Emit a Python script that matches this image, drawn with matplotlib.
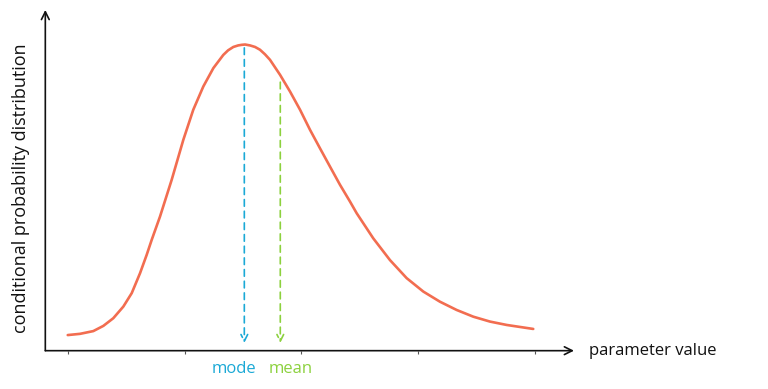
import matplotlib
matplotlib.use('Agg')
from matplotlib import pyplot as plt

# points (x in tick units, y scaled so peak ~ 1)
param = [0.00, 0.105, 0.219, 0.305, 0.390, 0.476, 0.548, 0.619, 0.676, 0.719,
         0.790, 0.890, 0.990, 1.075, 1.161, 1.247, 1.332, 1.373, 1.418, 1.459,
         1.490, 1.519, 1.561, 1.604, 1.646, 1.689, 1.732, 1.818, 1.904, 1.989,
         2.075, 2.160, 2.246, 2.331, 2.417, 2.474, 2.616, 2.759, 2.902, 3.045,
         3.187, 3.330, 3.473, 3.616, 3.759, 3.986]
density = [0.051, 0.055, 0.064, 0.081, 0.106, 0.144, 0.188, 0.253, 0.313, 0.362,
           0.438, 0.558, 0.689, 0.787, 0.863, 0.923, 0.966, 0.981, 0.992, 0.997,
           0.999, 1.000, 0.997, 0.992, 0.983, 0.968, 0.950, 0.901, 0.846, 0.787,
           0.721, 0.661, 0.601, 0.542, 0.487, 0.449, 0.367, 0.296, 0.237, 0.193,
           0.160, 0.133, 0.111, 0.095, 0.084, 0.071]
ticks = [0, 1, 2, 3, 4]
mode_x, mode_top = 1.512, 0.989
mean_x, mean_top = 1.82, 0.877
arrow_bottom = 0.025

plt.rcParams['font.family'] = ['Open Sans', 'DejaVu Sans']

fig = plt.figure(figsize=(7.68, 3.89), dpi=100)
ax = fig.add_axes([0.059, 0.0985, 0.6884, 0.876])
xmin, xmax = -0.192, 4.335
ymin, ymax = 0, 1.113
ax.set_xlim(xmin, xmax)
ax.set_ylim(ymin, ymax)
for s in ax.spines.values():
    s.set_visible(False)
ax.set_yticks([])
ax.set_xticks(ticks)
ax.set_xticklabels([])
ax.tick_params(axis='x', direction='out', length=2.5, width=0.8, color='#555555')

# axes with arrow heads
axis_style = dict(arrowstyle='->', color='#111111', lw=1.2, shrinkA=0, shrinkB=0,
                  mutation_scale=14)
ax.annotate('', xy=(xmax, 0), xytext=(xmin, 0), arrowprops=axis_style,
            annotation_clip=False)
ax.annotate('', xy=(xmin, ymax), xytext=(xmin, 0), arrowprops=axis_style,
            annotation_clip=False)

ax.plot(param, density, color='#F26D50', lw=1.9, solid_capstyle='round',
        solid_joinstyle='round')

# mode and mean markers
for x, top, col in [(mode_x, mode_top, '#1BA9D6'), (mean_x, mean_top, '#8CD13E')]:
    ax.annotate('', xy=(x, arrow_bottom), xytext=(x, top),
                arrowprops=dict(arrowstyle='->', color=col, lw=1.2, ls=(0, (4, 3)),
                                shrinkA=0, shrinkB=0, mutation_scale=12))

ax.text(mode_x - 0.09, -0.035, 'mode', color='#1BA9D6', fontsize=12,
        ha='center', va='top')
ax.text(mean_x + 0.09, -0.035, 'mean', color='#8CD13E', fontsize=12,
        ha='center', va='top')
ax.text(xmax + 0.13, 0, 'parameter value', color='#111111', fontsize=12,
        ha='left', va='center')
fig.text(0.027, 0.517, 'conditional probability distribution', color='#111111',
         fontsize=13, rotation=90, ha='center', va='center')

plt.savefig('out.png', dpi=100)
